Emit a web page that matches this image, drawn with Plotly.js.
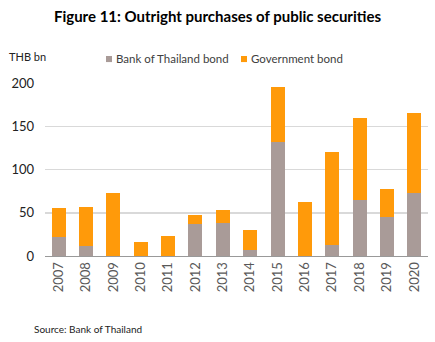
<!DOCTYPE html>
<html>
<head>
<meta charset="utf-8">
<script src="https://cdn.plot.ly/plotly-3.0.1.min.js"></script>
<style>html,body{margin:0;padding:0;background:#fff;}#chart{width:435px;height:342px;}</style>
</head>
<body>
<div id="chart"></div>
<script>
var years = ['2007','2008','2009','2010','2011','2012','2013','2014','2015','2016','2017','2018','2019','2020'];
var botBond = [22, 12, 0, 0, 0, 37, 38.5, 7, 132, 0, 12.7, 64.7, 44.7, 73];
var govBond = [34, 45, 72.4, 16.5, 23.5, 10.3, 14.5, 23, 63.5, 62.7, 107, 94.3, 32.7, 91.8];
var yTicks = [0, 50, 100, 150, 200];
var seriesNames = ['Bank of Thailand bond', 'Government bond'];
var seriesColors = ['#A99B98', '#FF9A0A'];

var FONT = 'Lato, "Open Sans", sans-serif';

var traces = [
  {type:'bar', name:seriesNames[0], x:years, y:botBond, marker:{color:seriesColors[0]}},
  {type:'bar', name:seriesNames[1], x:years, y:govBond, marker:{color:seriesColors[1]}}
];

// manual legend (small squares close to text, as in the reference)
var legX = [0.1593, 0.5117];
var shapes = legX.map(function(x0, i){
  return {type:'rect', xref:'paper', yref:'paper', x0:x0, x1:x0+0.0157, y0:1.121, y1:1.156,
          fillcolor:seriesColors[i], line:{width:0}};
});
var legendText = legX.map(function(x0, i){
  return {text:seriesNames[i], xref:'paper', yref:'paper', x:x0+0.022, xanchor:'left', y:1.139, yanchor:'middle',
          showarrow:false, font:{family:FONT, size:11.5, color:'#404040'}};
});

var layout = {
  width:435, height:342,
  margin:{l:45, r:7, t:83, b:86},
  paper_bgcolor:'#fff', plot_bgcolor:'#fff',
  barmode:'stack', bargap:0.49,
  font:{family:FONT, size:13, color:'#404040'},
  title:{text:'Figure 11: Outright purchases of public securities', x:0.5, xanchor:'center', y:0.95, yanchor:'middle',
         font:{family:FONT, size:15, color:'#000', weight:'bold'}},
  showlegend:false,
  xaxis:{type:'category', tickangle:-90, showgrid:false, showline:true, linecolor:'#999', linewidth:1,
         ticks:'', tickfont:{family:FONT, size:13, color:'#595959'}},
  yaxis:{range:[0,200], tickvals:yTicks, showgrid:true, gridcolor:'#D9D9D9', gridwidth:1.5, zeroline:false,
         showline:false, ticks:'', ticklabelstandoff:10, tickfont:{family:FONT, size:13, color:'#222'}},
  shapes:shapes,
  annotations:legendText.concat([
    {text:'THB bn', xref:'paper', yref:'paper', x:-0.1, xanchor:'left', y:1.156, yanchor:'middle', showarrow:false,
     font:{family:FONT, size:11, color:'#222'}},
    {text:'Source: Bank of Thailand', xref:'paper', yref:'paper', x:-0.035, xanchor:'left', y:-0.42, yanchor:'middle', showarrow:false,
     font:{family:FONT, size:10, color:'#222'}}
  ])
};

Plotly.newPlot('chart', traces, layout, {displayModeBar:false, staticPlot:true});
</script>
</body>
</html>
